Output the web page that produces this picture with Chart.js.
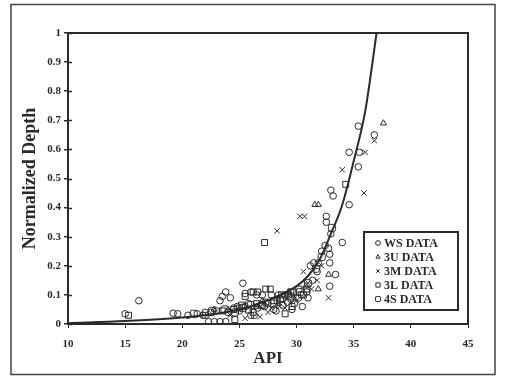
<!DOCTYPE html>
<html>
<head>
<meta charset="utf-8">
<script src="https://cdn.jsdelivr.net/npm/chart.js@4.4.1/dist/chart.umd.min.js"></script>
<style>
  html, body { margin: 0; padding: 0; background: #fff; }
  #wrap { width: 520px; height: 382px; position: relative; }
</style>
</head>
<body>
<div id="wrap"><canvas id="chart"></canvas></div>
<script>
// fitted curve
const curveX = [10, 15, 20, 25, 28, 30, 31, 32, 33, 34, 35, 36, 37];
const curveY = [0.003, 0.01, 0.022, 0.05, 0.09, 0.13, 0.165, 0.22, 0.31, 0.41, 0.56, 0.73, 1.0];

// [API, normalized depth]
const wsData = [[15.0,0.035],[16.2,0.08],[19.2,0.037],[19.6,0.035],[20.5,0.03],[21.3,0.035],[21.8,0.03],
  [22.5,0.04],[22.3,0.008],[22.8,0.008],[23.3,0.008],[23.8,0.008],[23.3,0.08],[23.5,0.095],[23.8,0.11],
  [24.2,0.09],[25.3,0.14],[24.8,0.06],[25.5,0.06],[26.0,0.03],[26.3,0.03],[26.5,0.1],[27.0,0.1],[27.5,0.07],
  [28.0,0.05],[29.0,0.1],[29.5,0.085],[30.2,0.09],[30.5,0.06],[31.2,0.2],[31.5,0.21],[31.9,0.21],[32.5,0.27],
  [32.8,0.26],[32.9,0.24],[32.9,0.21],[33.4,0.17],[32.9,0.13],[33.0,0.31],[34.0,0.28],[32.6,0.35],[32.6,0.37],
  [33.0,0.46],[33.2,0.44],[34.6,0.41],[34.6,0.59],[35.4,0.68],[35.5,0.59],[35.4,0.54],[36.8,0.65],
  [22.0,0.04],[23.0,0.045],[24.0,0.04],[24.5,0.055],[25.0,0.045],[25.8,0.07],[26.6,0.055],[27.2,0.06],
  [27.8,0.1],[28.4,0.1],[28.8,0.065],[29.2,0.075],[29.8,0.07],[30.4,0.1],[30.9,0.11],[31.4,0.15],
  [26.0,0.11],[25.5,0.105],[28.2,0.045],[29.6,0.05],[31.0,0.09],[31.8,0.18],[32.2,0.25]];
const u3Data = [[37.6,0.69],[31.6,0.41],[31.9,0.41],[32.8,0.17],[31.9,0.12],[29.3,0.11],[30.8,0.13],
  [22.8,0.05],[26.5,0.06],[28.4,0.07],[24.0,0.05],[27.0,0.08]];
const m3Data = [[36.8,0.63],[36.0,0.59],[34.0,0.53],[35.9,0.45],[30.3,0.37],[30.7,0.37],[28.3,0.32],
  [30.6,0.18],[31.0,0.14],[32.8,0.09],[29.0,0.055],[27.5,0.04],[28.5,0.06],[30.0,0.08],[31.3,0.12],
  [31.8,0.15],[32.2,0.2],[25.5,0.02],[24.2,0.03],[22.6,0.035],[26.8,0.025],[29.8,0.095],[27.8,0.055]];
const l3Data = [[15.3,0.03],[27.2,0.28],[26.2,0.11],[26.6,0.11],[27.3,0.12],[27.7,0.12],[28.3,0.08],
  [28.6,0.085],[29.5,0.11],[34.3,0.48],[22.0,0.03],[23.5,0.045],[24.5,0.05],[25.0,0.055],[25.8,0.048],
  [26.2,0.04],[26.5,0.07],[27.3,0.075],[28.0,0.08],[29.3,0.1],[29.7,0.11],[30.2,0.12],[30.6,0.1],
  [25.5,0.095],[29.6,0.06],[29.0,0.035],[24.6,0.015],[25.2,0.065],[26.9,0.065],[28.7,0.1],[30.9,0.12]];
const s4Data = [[21.0,0.035],[22.6,0.045],[23.7,0.05],[24.6,0.04],[25.3,0.055],[26.0,0.065],[27.0,0.065],
  [28.0,0.07],[28.8,0.09],[29.5,0.095],[30.3,0.11],[31.0,0.14],[31.7,0.19],[32.2,0.23],[33.1,0.33]];

const seriesNames = ["WS DATA", "3U DATA", "3M DATA", "3L DATA", "4S DATA"];
const seriesStyles = ["circle", "triangle", "crossRot", "rect", "rectRounded"];
const seriesRadius = [3.3, 3.5, 3.8, 4.2, 4.2];
const xTicks = [10, 15, 20, 25, 30, 35, 40, 45];

const INK = "#2a2a2a";
const FONT = "'Liberation Serif', 'DejaVu Serif', serif";

const toPts = arr => arr.map(p => ({ x: p[0], y: p[1] }));
const scatterSets = [wsData, u3Data, m3Data, l3Data, s4Data].map((d, i) => ({
  type: "scatter",
  label: seriesNames[i],
  data: toPts(d),
  pointStyle: seriesStyles[i],
  pointRadius: seriesRadius[i],
  borderColor: INK,
  borderWidth: 1,
  backgroundColor: "rgba(255,255,255,0)"
}));

// frame round the page, box round the plot, crossing y ticks, legend
const decor = {
  id: "decor",
  afterDraw(c) {
    const ctx = c.ctx, a = c.chartArea;
    ctx.save();
    ctx.strokeStyle = "#444";
    ctx.lineWidth = 1.5;
    ctx.strokeRect(11, 4.5, 484, 370);
    ctx.strokeStyle = INK;
    ctx.lineWidth = 2;
    ctx.strokeRect(a.left, a.top, a.right - a.left, a.bottom - a.top);
    // inner halves of y ticks
    ctx.lineWidth = 1.5;
    const ys = c.scales.y;
    ys.ticks.forEach(t => {
      const py = Math.round(ys.getPixelForValue(t.value)) + 0.5;
      ctx.beginPath(); ctx.moveTo(a.left, py); ctx.lineTo(a.left + 4, py); ctx.stroke();
    });
    // legend
    const lx = 364, ly = 232, lw = 94, lh = 78;
    ctx.fillStyle = "#fff";
    ctx.fillRect(lx, ly, lw, lh);
    ctx.lineWidth = 2;
    ctx.strokeRect(lx, ly, lw, lh);
    ctx.font = "bold 12px " + FONT;
    ctx.textBaseline = "middle";
    seriesNames.forEach((name, i) => {
      const cy = ly + 11 + i * 14;
      ctx.fillStyle = "#fff";
      ctx.strokeStyle = INK;
      ctx.lineWidth = 1;
      Chart.helpers.drawPoint(ctx, {
        pointStyle: seriesStyles[i], radius: i >= 3 ? 3 : 2.4, rotation: 0,
        borderWidth: 1
      }, lx + 14, cy);
      ctx.fillStyle = INK;
      ctx.fillText(name, lx + 20, cy + 1);
    });
    ctx.restore();
  }
};

new Chart(document.getElementById("chart"), {
  data: {
    datasets: [
      {
        type: "line",
        label: "fit",
        data: curveX.map((x, i) => ({ x, y: curveY[i] })),
        borderColor: INK,
        borderWidth: 2,
        pointRadius: 0,
        fill: false,
        cubicInterpolationMode: "monotone"
      },
      ...scatterSets
    ]
  },
  options: {
    responsive: true,
    maintainAspectRatio: false,
    animation: false,
    layout: { padding: { top: 33, right: 52, left: 0, bottom: 13 } },
    plugins: { legend: { display: false }, tooltip: { enabled: false } },
    scales: {
      x: {
        type: "linear",
        min: 10, max: 45,
        afterBuildTicks: s => { s.ticks = xTicks.map(v => ({ value: v })); },
        afterFit: s => { s.height = 45; },
        grid: { drawOnChartArea: false, tickLength: 4, color: INK, lineWidth: 1 },
        border: { display: true, color: INK, width: 2 },
        ticks: { color: INK, padding: 10, font: { family: FONT, size: 11, weight: "bold" } },
        title: { display: true, text: "API", color: INK, padding: { top: 0, bottom: 0 },
                 font: { family: FONT, size: 17, weight: "bold" } }
      },
      y: {
        min: 0, max: 1,
        ticks: { stepSize: 0.1, color: INK, padding: 3,
                 callback: v => String(Math.round(v * 10) / 10),
                 font: { family: FONT, size: 11, weight: "bold" } },
        afterFit: s => { s.width = 68; },
        grid: { drawOnChartArea: false, tickLength: 4, color: INK, lineWidth: 1.5 },
        border: { display: true, color: INK, width: 2 },
        title: { display: true, text: "Normalized Depth", color: INK, padding: { top: 20, bottom: 0 },
                 font: { family: FONT, size: 18, weight: "bold" } }
      }
    }
  },
  plugins: [decor]
});
</script>
</body>
</html>
